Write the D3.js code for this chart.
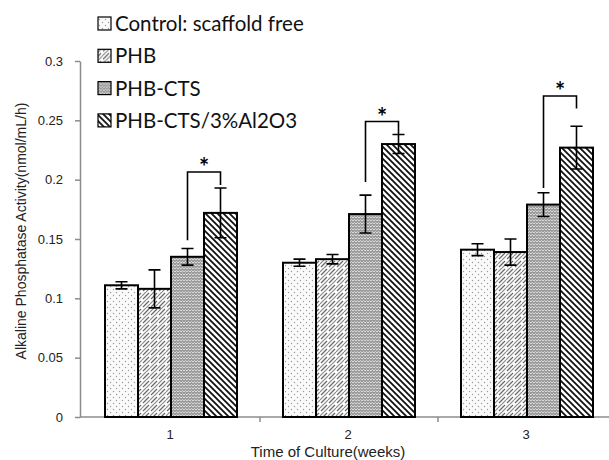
<!DOCTYPE html>
<html lang="en">
<head>
  <meta charset="UTF-8">
  <title>Alkaline Phosphatase Activity</title>
  <style>
    body { margin: 0; background: #fff; }
    svg { display: block; }
    .axis path, .axis line { stroke: #8c8c8c; stroke-width: 1.5px; }
    .axis text { font-family: "Liberation Sans", Arial, sans-serif; font-size: 13px; fill: #222; }
    .bar { stroke: #000; stroke-width: 2px; }
    .err { stroke: #000; stroke-width: 1.6px; fill: none; }
    .sig { stroke: #000; stroke-width: 1.6px; fill: none; }
  </style>
</head>
<body>
  <svg id="chart" width="609" height="460"></svg>
  <script src="https://cdn.jsdelivr.net/npm/d3@7/dist/d3.min.js"></script>
  <script>
    // data
    const weeks = ["1", "2", "3"];
    const groups = ["Control: scaffold free", "PHB", "PHB-CTS", "PHB-CTS/3%Al2O3"];
    const controlVals = [0.111, 0.130, 0.141];
    const phbVals     = [0.108, 0.133, 0.139];
    const ctsVals     = [0.135, 0.171, 0.179];
    const alVals      = [0.172, 0.230, 0.227];
    const controlErr  = [0.003, 0.003, 0.005];
    const phbErr      = [0.016, 0.004, 0.011];
    const ctsErr      = [0.007, 0.016, 0.010];
    const alErr       = [0.021, 0.008, 0.018];
    // significance brackets: left foot, top, right foot (y values)
    const sigLeft  = [0.149, 0.198, 0.193];
    const sigTop   = [0.2065, 0.249, 0.2705];
    const sigRight = [0.1955, 0.2385, 0.260];
    const yTicks = [0, 0.05, 0.1, 0.15, 0.2, 0.25, 0.3];
    const yTickLabels = ["0", "0.05", "0.1", "0.15", "0.2", "0.25", "0.3"];

    const values = [controlVals, phbVals, ctsVals, alVals];
    const errors = [controlErr, phbErr, ctsErr, alErr];
    const patIds = ["p-dots", "p-phb", "p-cts", "p-al"];

    const svg = d3.select("#chart");

    const y = d3.scaleLinear().domain([0, 0.3]).range([417, 61]);
    const x0 = d3.scaleBand().domain(weeks).range([82, 616]);
    const x1 = d3.scaleBand().domain(groups).range([23, 155]);

    // fill patterns
    const defs = svg.append("defs");

    const dots = defs.append("pattern").attr("id", "p-dots")
      .attr("patternUnits", "userSpaceOnUse").attr("width", 6).attr("height", 6);
    dots.append("rect").attr("width", 6).attr("height", 6).attr("fill", "#fafafa");
    dots.append("circle").attr("cx", 1.5).attr("cy", 1.5).attr("r", 0.7).attr("fill", "#9a9a9a");
    dots.append("circle").attr("cx", 4.5).attr("cy", 4.5).attr("r", 0.7).attr("fill", "#9a9a9a");

    const phb = defs.append("pattern").attr("id", "p-phb")
      .attr("patternUnits", "userSpaceOnUse").attr("width", 8).attr("height", 8);
    phb.append("rect").attr("width", 8).attr("height", 8).attr("fill", "#fff");
    phb.append("path").attr("d", "M0,8L3,5M5,3L8,0M-1,1L1,-1M7,9L9,7")
      .attr("stroke", "#6a6a6a").attr("stroke-width", 1.3);
    phb.append("path").attr("d", "M0,4L4,0M4,8L8,4")
      .attr("stroke", "#8a8a8a").attr("stroke-width", 1.1);

    const cts = defs.append("pattern").attr("id", "p-cts")
      .attr("patternUnits", "userSpaceOnUse").attr("width", 6).attr("height", 6);
    cts.append("rect").attr("width", 6).attr("height", 6).attr("fill", "#9c9c9c");
    cts.append("path").attr("d", "M0,2L1.5,0.5L3,2L4.5,0.5L6,2M0,5L1.5,3.5L3,5L4.5,3.5L6,5")
      .attr("stroke", "#e0e0e0").attr("stroke-width", 0.9).attr("fill", "none");

    const al = defs.append("pattern").attr("id", "p-al")
      .attr("patternUnits", "userSpaceOnUse").attr("width", 6).attr("height", 6);
    al.append("rect").attr("width", 6).attr("height", 6).attr("fill", "#fff");
    al.append("path").attr("d", "M0,0L6,6M-3,3L3,9M3,-3L9,3")
      .attr("stroke", "#111").attr("stroke-width", 1.8);

    // axes
    svg.append("g").attr("class", "axis")
      .attr("transform", "translate(80,0)")
      .call(d3.axisLeft(y).tickValues(yTicks).tickSize(5).tickSizeOuter(0)
        .tickFormat((d, i) => yTickLabels[i]))
      .call(g => g.selectAll("text").attr("x", -17));

    const xAxis = svg.append("g").attr("class", "axis")
      .attr("transform", "translate(0,417)");
    xAxis.append("line").attr("x1", 80).attr("x2", 616).attr("y1", 0).attr("y2", 0);
    xAxis.selectAll(".tk").data(weeks.slice(1)).join("line")
      .attr("x1", d => x0(d)).attr("x2", d => x0(d)).attr("y1", 0).attr("y2", 5);
    xAxis.selectAll(".lbl").data(weeks).join("text")
      .attr("x", d => x0(d) + x0.bandwidth() / 2 - 1)
      .attr("y", 22)
      .attr("text-anchor", "middle")
      .text(d => d);

    // bars
    const grp = svg.append("g").selectAll("g")
      .data(weeks).join("g")
      .attr("transform", d => `translate(${x0(d)},0)`);

    groups.forEach((gname, si) => {
      grp.append("rect")
        .attr("class", "bar")
        .attr("x", (d, i) => x1(gname))
        .attr("y", (d, i) => y(values[si][i]))
        .attr("width", x1.bandwidth())
        .attr("height", (d, i) => y(0) - y(values[si][i]))
        .attr("fill", `url(#${patIds[si]})`);
    });

    // error bars
    groups.forEach((gname, si) => {
      const cx = x1(gname) + x1.bandwidth() / 2;
      grp.append("path")
        .attr("class", "err")
        .attr("d", (d, i) => {
          const hi = y(values[si][i] + errors[si][i]);
          const lo = y(values[si][i] - errors[si][i]);
          return `M${cx},${hi}V${lo}M${cx - 6},${hi}H${cx + 6}M${cx - 6},${lo}H${cx + 6}`;
        });
    });

    // significance brackets
    const lx = x1(groups[2]) + x1.bandwidth() / 2;
    const rx = x1(groups[3]) + x1.bandwidth() / 2;
    grp.append("path")
      .attr("class", "sig")
      .attr("d", (d, i) => `M${lx},${y(sigLeft[i])}V${y(sigTop[i])}H${rx}V${y(sigRight[i])}`);
    grp.append("text")
      .attr("x", (lx + rx) / 2)
      .attr("y", (d, i) => y(sigTop[i]) + 4)
      .attr("text-anchor", "middle")
      .attr("font-family", "Lato, sans-serif")
      .attr("font-weight", "bold")
      .attr("font-size", 24)
      .text("*");

    // legend
    const legend = svg.append("g").selectAll("g")
      .data(groups).join("g")
      .attr("transform", (d, i) => `translate(98,${24 + i * 32.3})`);
    legend.append("rect")
      .attr("x", 0).attr("y", -7).attr("width", 13).attr("height", 13)
      .attr("fill", (d, i) => `url(#${patIds[i]})`)
      .attr("stroke", "#000").attr("stroke-width", 1.2);
    legend.append("text")
      .attr("x", 17).attr("y", 7)
      .attr("font-family", "Lato, sans-serif")
      .attr("font-size", 20.5)
      .attr("fill", "#111")
      .text(d => d);

    // axis titles
    svg.append("text")
      .attr("transform", "translate(26,231) rotate(-90)")
      .attr("text-anchor", "middle")
      .attr("font-family", "Liberation Sans, Arial, sans-serif")
      .attr("font-size", 14)
      .attr("fill", "#222")
      .text("Alkaline Phosphatase Activity(nmol/mL/h)");
    svg.append("text")
      .attr("x", 328).attr("y", 457)
      .attr("text-anchor", "middle")
      .attr("font-family", "Liberation Sans, Arial, sans-serif")
      .attr("font-size", 15)
      .attr("fill", "#222")
      .text("Time of Culture(weeks)");
  </script>
</body>
</html>
